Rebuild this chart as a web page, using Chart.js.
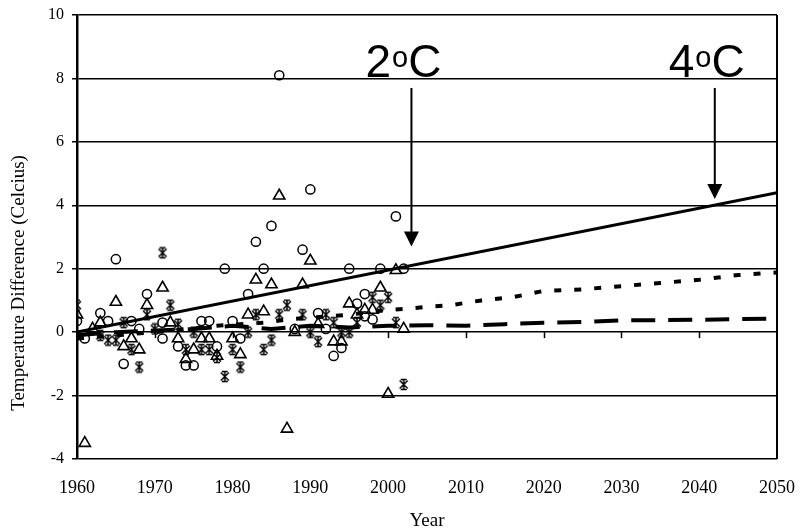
<!DOCTYPE html>
<html>
<head>
<meta charset="utf-8">
<script src="https://cdn.jsdelivr.net/npm/chart.js@4/dist/chart.umd.min.js"></script>
<style>
  html, body { margin: 0; padding: 0; background: #fff; }
  #wrap { width: 800px; height: 531px; }
</style>
</head>
<body>
<div id="wrap"><canvas id="c" width="800" height="531"></canvas></div>
<script>
// Observed temperature differences (°C) by year, one list per station marker
const circleObs = [
  [1960,0.35],[1961,-0.2],[1963,0.6],[1964,0.35],[1965,2.3],[1966,-1.0],[1967,0.35],
  [1968,0.1],[1969,1.2],[1971,0.3],[1971,-0.2],[1973,-0.45],[1974,-1.05],[1975,-1.05],
  [1976,0.35],[1977,0.35],[1978,-0.45],[1979,2.0],[1980,0.35],[1981,-0.2],[1982,1.2],
  [1983,2.85],[1984,2.0],[1985,3.35],[1986,8.1],[1988,0.1],[1989,2.6],[1990,4.5],
  [1991,0.6],[1992,0.1],[1993,-0.75],[1994,-0.5],[1995,2.0],[1996,0.9],[1997,1.2],
  [1997,0.5],[1998,0.4],[1999,2.0],[2001,3.65],[2002,2.0]
];
const triangleObs = [
  [1960,0.55],[1961,-3.5],[1962,0.1],[1963,0.3],[1965,0.95],[1966,-0.45],[1967,-0.2],
  [1968,-0.55],[1969,0.85],[1971,1.4],[1972,0.3],[1973,-0.2],[1974,-0.85],[1975,-0.55],
  [1976,-0.2],[1977,-0.2],[1978,-0.75],[1980,-0.2],[1981,-0.7],[1982,0.55],[1983,1.65],
  [1984,0.65],[1985,1.5],[1986,4.3],[1987,-3.05],[1988,0.0],[1989,1.5],[1990,2.25],
  [1991,0.25],[1993,-0.3],[1994,-0.3],[1995,0.9],[1996,0.55],[1997,0.7],[1998,0.7],
  [1999,1.4],[2000,-1.95],[2001,1.95],[2002,0.1]
];
const starObs = [
  [1960,0.85],[1963,-0.1],[1964,-0.25],[1965,-0.25],[1966,0.3],[1967,-0.55],[1968,-1.1],
  [1969,0.55],[1970,0.1],[1971,2.5],[1972,0.85],[1973,0.25],[1974,-0.55],[1975,0.0],
  [1976,-0.55],[1977,-0.55],[1978,-0.8],[1979,-1.4],[1980,-0.55],[1981,-1.1],[1982,0.0],
  [1983,0.55],[1984,-0.55],[1985,-0.25],[1986,0.55],[1987,0.85],[1989,0.55],[1990,0.0],
  [1991,-0.3],[1992,0.55],[1993,0.3],[1994,0.0],[1995,0.0],[1996,0.3],[1998,1.1],
  [1999,0.85],[2000,1.1],[2001,0.3],[2002,-1.65]
];

// Linear warming trend
const trendYears  = [1960, 2050];
const trendValues = [0, 4.4];

// Projection curves
const dottedYears  = [1960, 1970, 1978, 1984, 1987, 1995, 2000, 2003, 2005, 2008, 2012, 2016, 2020, 2025, 2030, 2035, 2040, 2045, 2050];
const dottedValues = [-0.2, 0.0, 0.2, 0.3, 0.4, 0.55, 0.7, 0.75, 0.8, 0.85, 1.0, 1.1, 1.3, 1.35, 1.45, 1.55, 1.65, 1.8, 1.88];
const dashedYears  = [1960, 1965, 1970, 1975, 1980, 1985, 1990, 1995, 2000, 2005, 2010, 2015, 2020, 2025, 2030, 2040, 2050];
const dashedValues = [-0.1, 0.0, 0.05, 0.1, 0.2, 0.1, 0.2, 0.15, 0.2, 0.22, 0.2, 0.25, 0.3, 0.32, 0.37, 0.39, 0.43];

// Axis ticks
const xTicks = [1960, 1970, 1980, 1990, 2000, 2010, 2020, 2030, 2040, 2050];
const yTicks = [-4, -2, 0, 2, 4, 6, 8, 10];
const yTitle = 'Temperature Difference (Celcius)';

// Warming thresholds: label, year reached, arrow from / to (°C)
const thresholdLabels = ['2', '4'];
const thresholdYears  = [2003, 2042];
const arrowFrom       = [7.7, 7.7];
const arrowTo         = [2.7, 4.2];

const pts = arr => arr.map(([x, y]) => ({x, y}));
const zip = (xs, ys) => xs.map((x, i) => ({x, y: ys[i]}));

// asterisk marker: an X crossed by a capped vertical stroke
function starMarker() {
  const c = document.createElement('canvas');
  c.width = 12; c.height = 13;
  const g = c.getContext('2d');
  g.strokeStyle = '#000';
  g.lineWidth = 1.5;
  g.lineCap = 'butt';
  g.beginPath();
  g.moveTo(2, 2.5);  g.lineTo(10, 10.5);
  g.moveTo(10, 2.5); g.lineTo(2, 10.5);
  g.moveTo(6, 1);    g.lineTo(6, 12);
  g.moveTo(3, 1.5);  g.lineTo(9, 1.5);
  g.moveTo(3, 11.5); g.lineTo(9, 11.5);
  g.stroke();
  return c;
}

const serif = 'Liberation Serif, Times New Roman, serif';
const sans = 'Liberation Sans, Arial, sans-serif';

const overlay = {
  id: 'overlay',
  afterDraw(chart) {
    const {ctx, chartArea: a, scales: {x, y}} = chart;
    ctx.save();
    ctx.strokeStyle = '#000';
    ctx.fillStyle = '#000';
    // right frame edge
    ctx.lineWidth = 2;
    ctx.beginPath();
    ctx.moveTo(a.right, a.top);
    ctx.lineTo(a.right, a.bottom);
    ctx.stroke();
    // x tick marks hanging from the zero line
    const y0 = y.getPixelForValue(0);
    ctx.lineWidth = 1.5;
    xTicks.slice(1, -1).forEach(v => {
      const px = Math.round(x.getPixelForValue(v)) + 0.5;
      ctx.beginPath();
      ctx.moveTo(px, y0);
      ctx.lineTo(px, y0 + 6);
      ctx.stroke();
    });
    // vertical axis title, set a little below the plot centre
    ctx.save();
    ctx.translate(19, y.getPixelForValue(1.55));
    ctx.rotate(-Math.PI / 2);
    ctx.font = '19px ' + serif;
    ctx.textAlign = 'center';
    ctx.textBaseline = 'middle';
    ctx.fillText(yTitle, 0, 0);
    ctx.restore();
    // threshold arrows and labels
    thresholdLabels.forEach((lab, i) => {
      const ax = x.getPixelForValue(thresholdYears[i]);
      const yTop = y.getPixelForValue(arrowFrom[i]);
      const yTip = y.getPixelForValue(arrowTo[i]);
      const head = 15;
      ctx.lineWidth = 2;
      ctx.beginPath();
      ctx.moveTo(ax, yTop);
      ctx.lineTo(ax, yTip - head + 1);
      ctx.stroke();
      ctx.beginPath();
      ctx.moveTo(ax - 7.5, yTip - head);
      ctx.lineTo(ax + 7.5, yTip - head);
      ctx.lineTo(ax, yTip);
      ctx.closePath();
      ctx.fill();

      const base = y.getPixelForValue(8) - 1;
      let tx = ax - 46;
      ctx.textBaseline = 'alphabetic';
      ctx.textAlign = 'left';
      ctx.font = '46px ' + sans;
      ctx.fillText(lab, tx, base);
      tx += ctx.measureText(lab).width + 1;
      ctx.font = '29px ' + sans;
      ctx.fillText('o', tx, base - 10);
      tx += ctx.measureText('o').width;
      ctx.font = '46px ' + sans;
      ctx.fillText('C', tx, base);
    });
    ctx.restore();
  }
};

const markerBase = {showLine: false, borderColor: '#000', pointBorderColor: '#000'};

new Chart(document.getElementById('c'), {
  type: 'scatter',
  data: {
    datasets: [
      {label: 'Trend', data: zip(trendYears, trendValues), showLine: true, borderColor: '#000', borderWidth: 3, pointRadius: 0, order: 1},
      {label: 'Projection A', data: zip(dottedYears, dottedValues), showLine: true, borderColor: '#000', borderWidth: 4, borderDash: [7, 13], borderCapStyle: 'butt', pointRadius: 0, order: 2},
      {label: 'Projection B', data: zip(dashedYears, dashedValues), showLine: true, borderColor: '#000', borderWidth: 4, borderDash: [24, 13], borderCapStyle: 'butt', pointRadius: 0, order: 3},
      {...markerBase, label: 'Circles', data: pts(circleObs), pointStyle: 'circle', pointRadius: 4.6, pointBorderWidth: 1.5, pointBackgroundColor: 'rgba(0,0,0,0)', order: 4},
      {...markerBase, label: 'Triangles', data: pts(triangleObs), pointStyle: 'triangle', pointRadius: 6.5, pointBorderWidth: 1.6, pointBackgroundColor: 'rgba(0,0,0,0)', order: 5},
      {...markerBase, label: 'Stars', data: pts(starObs), pointStyle: starMarker(), pointRadius: 6, order: 6}
    ]
  },
  options: {
    responsive: false,
    animation: false,
    devicePixelRatio: 1,
    layout: {padding: {top: 15, right: 23, left: 0, bottom: 0}},
    plugins: {legend: {display: false}, tooltip: {enabled: false}},
    scales: {
      x: {
        type: 'linear',
        min: xTicks[0],
        max: xTicks[xTicks.length - 1],
        afterBuildTicks: s => { s.ticks = xTicks.map(v => ({value: v})); },
        afterFit: s => { s.height = 72; s.paddingLeft = 0; s.paddingRight = 0; },
        grid: {display: false, drawTicks: false},
        border: {display: false},
        ticks: {color: '#000', padding: 18, maxRotation: 0, font: {family: serif, size: 18}, callback: v => String(v)},
        title: {display: true, text: 'Year', color: '#000', font: {family: serif, size: 19}, padding: {top: 0, bottom: -1}}
      },
      y: {
        min: yTicks[0],
        max: yTicks[yTicks.length - 1],
        afterBuildTicks: s => { s.ticks = yTicks.map(v => ({value: v})); },
        afterFit: s => { s.width = 77; s.paddingTop = 0; s.paddingBottom = 0; },
        grid: {color: '#000', lineWidth: 1.5, drawTicks: true, tickLength: 5, tickColor: '#000'},
        border: {display: true, color: '#000', width: 2.5},
        ticks: {color: '#000', padding: 8, font: {family: serif, size: 16}},
        title: {display: false}
      }
    }
  },
  plugins: [overlay]
});
</script>
</body>
</html>
